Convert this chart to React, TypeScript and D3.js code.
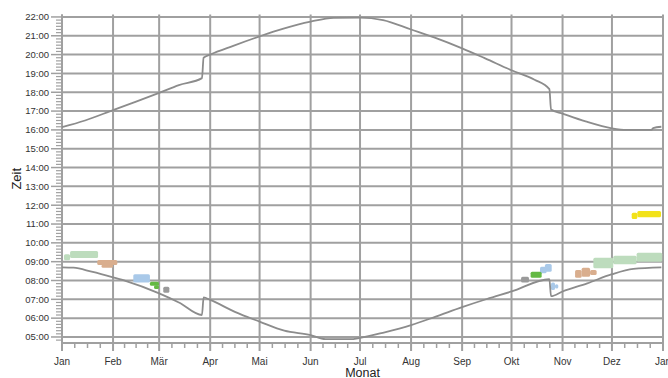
import React from "react";
import * as d3 from "d3";

const W = 668;
const H = 378;
const YEAR = 2015;

const monthLabels = ["Jan", "Feb", "Mär", "Apr", "Mai", "Jun", "Jul", "Aug", "Sep", "Okt", "Nov", "Dez", "Jan"];
const hourTicks = [5, 6, 7, 8, 9, 10, 11, 12, 13, 14, 15, 16, 17, 18, 19, 20, 21, 22];

// Sunset [date, time]
const sunset: [string, string][] = [
  ["01-01", "16:09"], ["01-15", "16:30"], ["02-01", "17:03"], ["02-15", "17:30"],
  ["03-01", "17:58"], ["03-13", "18:23"], ["03-27", "18:45"], ["03-28", "19:50"],
  ["04-01", "20:00"], ["04-15", "20:28"], ["05-01", "20:58"], ["05-15", "21:22"],
  ["06-01", "21:45"], ["06-15", "21:57"], ["07-01", "21:58"], ["07-15", "21:50"],
  ["08-01", "21:20"], ["08-15", "20:55"], ["09-01", "20:20"], ["09-15", "19:48"],
  ["10-01", "19:10"], ["10-15", "18:40"], ["10-24", "18:10"], ["10-25", "17:05"],
  ["11-01", "16:52"], ["11-15", "16:27"], ["12-01", "16:05"], ["12-10", "16:00"],
  ["12-25", "16:00"], ["12-26", "16:06"], ["12-31", "16:10"],
];

// Sunrise [date, time]
const sunrise: [string, string][] = [
  ["01-01", "08:42"], ["01-08", "08:41"], ["01-19", "08:28"], ["02-01", "08:10"],
  ["02-09", "07:58"], ["03-01", "07:19"], ["03-13", "06:50"], ["03-27", "06:10"],
  ["03-28", "07:06"], ["04-01", "06:58"], ["04-16", "06:20"], ["05-01", "05:49"],
  ["05-16", "05:20"], ["06-01", "05:06"], ["06-10", "04:53"], ["06-25", "04:53"],
  ["07-01", "04:57"], ["07-16", "05:15"], ["08-01", "05:38"], ["08-16", "06:05"],
  ["09-01", "06:35"], ["09-16", "07:01"], ["10-01", "07:25"], ["10-24", "08:04"],
  ["10-25", "07:10"], ["11-01", "07:25"], ["11-16", "07:51"], ["12-01", "08:20"],
  ["12-14", "08:37"], ["12-31", "08:42"],
];

// Patches: [startDay, endDay, lowHour, highHour] (day of year)
const patchLightGreen = [
  [1.2, 4.9, 9.08, 9.4], [4.9, 21.9, 9.2, 9.57],
  [322.7, 334.8, 8.65, 9.21], [334.8, 349, 8.86, 9.32], [349, 364.5, 9.0, 9.47],
];
const patchTan = [
  [21.4, 33.6, 8.82, 9.09], [24, 31, 8.68, 8.85],
  [311.6, 315.6, 8.15, 8.56], [315.6, 320.7, 8.2, 8.68], [320.7, 324.7, 8.29, 8.56],
];
const patchBlue = [
  [43.3, 53.4, 7.9, 8.33], [290.3, 294.3, 8.38, 8.73], [293.3, 297.4, 8.47, 8.88],
  [297, 299.4, 7.49, 7.9], [299.4, 301.4, 7.58, 7.8],
];
const patchGreen = [
  [53.4, 58.9, 7.72, 7.94], [55.9, 58.9, 7.55, 7.75], [284.6, 291.3, 8.15, 8.47],
];
const patchGray = [
  [61.5, 65.2, 7.35, 7.67], [278.8, 283.6, 7.9, 8.2],
];
const patchYellow = [
  [346, 349.4, 11.27, 11.6], [349.4, 363.8, 11.36, 11.69],
];

const patchGroups: [number[][], string][] = [
  [patchLightGreen, "#bddcbd"],
  [patchTan, "#d9ae8e"],
  [patchBlue, "#a9c9e9"],
  [patchGreen, "#64b944"],
  [patchGray, "#9a9a9a"],
  [patchYellow, "#f2e21a"],
];

const jan1 = new Date(YEAR, 0, 1);
const dayOf = (s: string) => {
  const [m, d] = s.split("-").map(Number);
  return d3.timeDay.count(jan1, new Date(YEAR, m - 1, d));
};
const hourOf = (s: string) => {
  const [h, m] = s.split(":").map(Number);
  return h + m / 60;
};
const pad = (n: number) => (n < 10 ? "0" + n : "" + n);

export default function App() {
  const left = 62, right = 663, top = 14.5, bottom = 343;
  const yearDays = d3.timeDay.count(jan1, new Date(YEAR + 1, 0, 1));
  const x = d3.scaleLinear().domain([0, yearDays]).range([left, right]);
  const y = d3.scaleLinear().domain([4.68, 22.13]).range([bottom, top]);

  const monthStarts = d3.timeMonth
    .range(jan1, new Date(YEAR + 1, 0, 2))
    .map((d) => d3.timeDay.count(jan1, d));

  const minorX: number[] = [];
  for (let i = 0; i < monthStarts.length - 1; i++) {
    const a = monthStarts[i], b = monthStarts[i + 1];
    for (let k = 1; k < 4; k++) minorX.push(a + ((b - a) * k) / 4);
  }
  const minorY: number[] = [];
  for (let t = 4 * 6 + 5; t <= 22 * 6; t++) {
    if (t % 6 !== 0) minorY.push(t / 6);
  }

  const line = d3
    .line<[string, string]>()
    .x((d) => x(dayOf(d[0])))
    .y((d) => y(hourOf(d[1])))
    .curve(d3.curveMonotoneX);

  const grid = "#a0a0a0";
  const font = "'Liberation Sans', Arial, Helvetica, sans-serif";

  return (
    <svg width={W} height={H} style={{ position: "absolute", left: 0, top: 0 }} fontFamily={font}>
      <rect width={W} height={H} fill="#fff" />
      {hourTicks.map((h) => (
        <line key={"hg" + h} x1={left} x2={right} y1={y(h)} y2={y(h)} stroke={grid} strokeWidth={2} />
      ))}
      {monthStarts.map((d, i) => (
        <line key={"vg" + i} x1={x(d)} x2={x(d)} y1={top} y2={bottom + 8} stroke={grid} strokeWidth={2} />
      ))}
      <line x1={left} x2={right} y1={bottom} y2={bottom} stroke={grid} strokeWidth={2} />
      <line x1={left} x2={left} y1={top} y2={bottom} stroke={grid} strokeWidth={2} />
      {minorX.map((d, i) => (
        <line key={"mx" + i} x1={x(d)} x2={x(d)} y1={bottom} y2={bottom + 5} stroke={grid} strokeWidth={1.5} />
      ))}
      {minorY.map((h, i) => (
        <line key={"my" + i} x1={left - 6} x2={left} y1={y(h)} y2={y(h)} stroke={grid} strokeWidth={1.2} />
      ))}
      {hourTicks.map((h) => (
        <line key={"yt" + h} x1={left - 11} x2={left} y1={y(h)} y2={y(h)} stroke={grid} strokeWidth={1.5} />
      ))}
      {hourTicks.map((h) => (
        <text key={"yl" + h} x={left - 13} y={y(h)} dy="0.35em" textAnchor="end" fontSize={9.5} fill="#333">
          {pad(h) + ":00"}
        </text>
      ))}
      {monthStarts.map((d, i) => (
        <text key={"xl" + i} x={x(d)} y={365} textAnchor="middle" fontSize={10} fill="#333">
          {monthLabels[i]}
        </text>
      ))}
      <text x={(left + right) / 2} y={377} textAnchor="middle" fontSize={12.5} fill="#222">Monat</text>
      <text transform={`translate(21,${(top + bottom) / 2}) rotate(-90)`} textAnchor="middle" fontSize={13} fill="#222">Zeit</text>
      {patchGroups.map(([rects, color], gi) =>
        rects.map((r, i) => (
          <rect
            key={"p" + gi + "-" + i}
            x={x(r[0])}
            width={x(r[1]) - x(r[0])}
            y={y(r[3])}
            height={y(r[2]) - y(r[3])}
            fill={color}
            rx={1.5}
          />
        ))
      )}
      <path d={line(sunset) || ""} fill="none" stroke="#8c8c8c" strokeWidth={1.8} />
      <path d={line(sunrise) || ""} fill="none" stroke="#8c8c8c" strokeWidth={1.8} />
    </svg>
  );
}
